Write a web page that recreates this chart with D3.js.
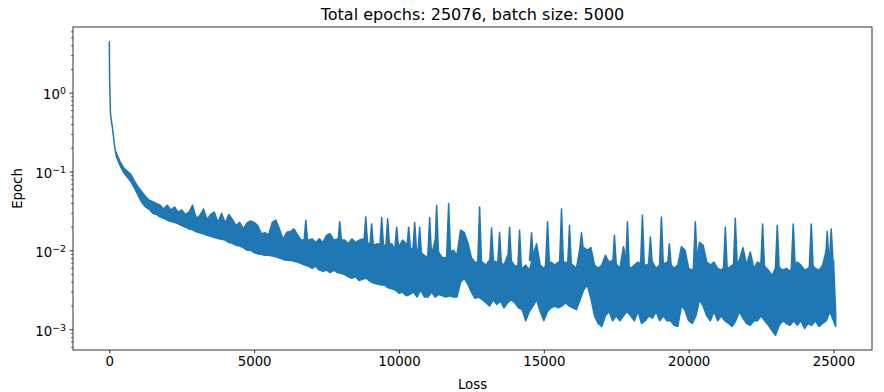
<!DOCTYPE html>
<html>
<head>
<meta charset="utf-8">
<script src="https://cdn.jsdelivr.net/npm/d3@7"></script>
<style>
  body { margin: 0; background: #fff; }
  svg { display: block; font-family: "DejaVu Sans", sans-serif; }
</style>
</head>
<body>
<script>
// first few hundred epochs: a single steep line
const headEpochs = [0, 5, 10, 20, 30, 40, 60, 100, 140, 200];
const headLoss = [4.5, 2.4, 1.5, 1.05, 0.72, 0.56, 0.48, 0.38, 0.29, 0.19];

// after that the curve is a dense band, read every 125 epochs (low / high edge)
const bandStart = 250, bandStep = 125, lastEpoch = 25075;
const bandHigh = [
  0.17, 0.135, 0.112, 0.102, 0.092, 0.076, 0.064,
  0.056, 0.049, 0.044, 0.042, 0.040, 0.038, 0.034, 0.038, 0.033, 0.036,
  0.031, 0.033, 0.029, 0.031, 0.038, 0.026, 0.028, 0.034, 0.025, 0.029,
  0.031, 0.023, 0.030, 0.0225, 0.029, 0.025, 0.021, 0.023, 0.019, 0.0225,
  0.024, 0.023, 0.021, 0.0165, 0.017, 0.016, 0.023, 0.0245, 0.019, 0.014,
  0.0172, 0.0176, 0.019, 0.0158, 0.0137, 0.0137, 0.0137, 0.0142, 0.0128, 0.0142,
  0.0128, 0.0158, 0.0165, 0.0137, 0.0142, 0.0137, 0.0137, 0.0123, 0.0142, 0.0128,
  0.0137, 0.0142, 0.013, 0.012, 0.0118, 0.0123, 0.012, 0.0118, 0.012, 0.0123,
  0.0104, 0.0115, 0.0137, 0.0123, 0.011, 0.0102, 0.0105, 0.0095, 0.0088, 0.0082,
  0.009, 0.0137, 0.0095, 0.0082, 0.0082, 0.0095, 0.0102, 0.0088, 0.0183, 0.0172,
  0.0128, 0.0082, 0.0072, 0.0072, 0.0072, 0.0066, 0.0076, 0.0075, 0.0072, 0.0072,
  0.0066, 0.0088, 0.0075, 0.0064, 0.0066, 0.006, 0.0066, 0.0057, 0.0085, 0.0123,
  0.0066, 0.006, 0.007, 0.0072, 0.0066, 0.0072, 0.0072, 0.0072, 0.007, 0.0066,
  0.006, 0.011, 0.011, 0.0102, 0.011, 0.0066, 0.006, 0.0066, 0.0088, 0.0072,
  0.0076, 0.0068, 0.006, 0.0113, 0.0066, 0.006, 0.0066, 0.0072, 0.0068, 0.0066,
  0.0068, 0.0072, 0.006, 0.0066, 0.0068, 0.0072, 0.0068, 0.006, 0.0066, 0.0113,
  0.0102, 0.006, 0.0057, 0.0068, 0.0128, 0.0118, 0.0072, 0.0066, 0.0072, 0.006,
  0.0057, 0.0064, 0.006, 0.0066, 0.0068, 0.0076, 0.011, 0.0066, 0.0097, 0.006,
  0.0072, 0.0068, 0.0064, 0.0057, 0.0049, 0.006, 0.0062, 0.0057, 0.006, 0.0055,
  0.0066, 0.0072, 0.0066, 0.0057, 0.006, 0.0066, 0.006, 0.0057, 0.0066, 0.0102,
  0.0075, 0.0075,
  0.0016
];
const bandLow = [
  0.155, 0.12, 0.098, 0.086, 0.075, 0.062, 0.05,
  0.041, 0.036, 0.034, 0.030, 0.029, 0.027, 0.026, 0.0245, 0.0235, 0.023,
  0.022, 0.021, 0.020, 0.019, 0.0185, 0.0175, 0.017, 0.0165, 0.0158, 0.0153,
  0.0148, 0.0144, 0.014, 0.0137, 0.0128, 0.0125, 0.0118, 0.0115, 0.011, 0.0102,
  0.0102, 0.0095, 0.0092, 0.009, 0.0088, 0.0088, 0.0086, 0.0084, 0.0081, 0.0078,
  0.0076, 0.0076, 0.0074, 0.0072, 0.0069, 0.0066, 0.0064, 0.006, 0.0064, 0.0057,
  0.0055, 0.0057, 0.0053, 0.0057, 0.0053, 0.0052, 0.005, 0.0047, 0.0045, 0.0047,
  0.0042, 0.0044, 0.0045, 0.0041, 0.0039, 0.0038, 0.0037, 0.0037, 0.0034, 0.0033,
  0.0032, 0.0029, 0.003, 0.0027, 0.0028, 0.003, 0.0026, 0.0032, 0.0026, 0.0026,
  0.003, 0.0026, 0.0028, 0.0027, 0.0026, 0.0027, 0.0026, 0.0026, 0.004, 0.0045,
  0.0038, 0.003, 0.0025, 0.0026, 0.0024, 0.0022, 0.002, 0.0024, 0.0021, 0.0023,
  0.0019, 0.0022, 0.0024, 0.0022, 0.0019, 0.0018, 0.0013, 0.0017, 0.002, 0.0024,
  0.0017, 0.0013, 0.0017, 0.0019, 0.002, 0.0019, 0.002, 0.0022, 0.002, 0.0019,
  0.0018, 0.0024, 0.0032, 0.0037, 0.0025, 0.0015, 0.0012, 0.0011, 0.0015, 0.0017,
  0.0013, 0.0015, 0.0013, 0.0015, 0.0017, 0.0015, 0.0013, 0.0017, 0.0012, 0.0013,
  0.0015, 0.0014, 0.0017, 0.0013, 0.0015, 0.0013, 0.0013, 0.00114, 0.0011, 0.002,
  0.00176, 0.0013, 0.0012, 0.0015, 0.0024, 0.002, 0.0015, 0.0013, 0.0017, 0.0013,
  0.0015, 0.0013, 0.0012, 0.0011, 0.0013, 0.0017, 0.0014, 0.0012, 0.00114, 0.0013,
  0.0013, 0.0015, 0.0013, 0.00114, 0.00098, 0.00085, 0.00114, 0.0013, 0.0012, 0.00114,
  0.0013, 0.00114, 0.0013, 0.00104, 0.0012, 0.00114, 0.0013, 0.0011, 0.0012, 0.0013,
  0.0017, 0.0013,
  0.0011
];

// short sharp spikes above the band: epoch and peak loss
const spikeEpochs = [6783, 7955, 8852, 9055, 9403, 9610, 9921, 10334, 10541, 10714,
  11059, 11300, 11714, 12783, 13197, 13472, 13817, 14162, 14576, 15128,
  15610, 15886, 16300, 17438, 17886, 18403, 18679, 19059, 19334, 20231,
  21266, 21610, 22552, 23059, 23610, 24231, 24783, 24921];
const spikePeaks = [0.0245, 0.0235, 0.027, 0.022, 0.0265, 0.0255, 0.020, 0.020, 0.023, 0.020,
  0.0265, 0.038, 0.040, 0.036, 0.0195, 0.0172, 0.020, 0.0183, 0.017, 0.0235,
  0.034, 0.0212, 0.017, 0.0158, 0.0235, 0.0284, 0.015, 0.027, 0.0123, 0.0235,
  0.020, 0.026, 0.022, 0.0212, 0.022, 0.022, 0.0176, 0.019];

const xTicks = [0, 5000, 10000, 15000, 20000, 25000];
const yTickExps = [0, -1, -2, -3];

const titleText = "Total epochs: 25076, batch size: 5000";
const xLabel = "Loss";
const yLabel = "Epoch";

// ---- build the series ----
const bandEpochs = d3.range(bandStart, lastEpoch, bandStep).concat([lastEpoch]);
const series = headEpochs.map((e, i) => ({ epoch: e, lo: headLoss[i], hi: headLoss[i] }))
  .concat(bandEpochs.map((e, i) => ({ epoch: e, lo: bandLow[i], hi: bandHigh[i] })));
const bisect = d3.bisector(d => d.epoch).left;
const spikes = spikeEpochs.map((e, i) => {
  const j = Math.min(series.length - 1, bisect(series, e));
  return { epoch: e, peak: spikePeaks[i], base: series[j].hi };
});

const width = 884, height = 392;
const margin = { top: 27, right: 12, bottom: 42, left: 73 };
const innerW = width - margin.left - margin.right,
      innerH = height - margin.top - margin.bottom;
const color = "#1f77b4";

// matplotlib style 5% padding
const xPad = 0.05 * lastEpoch;
const x = d3.scaleLinear()
  .domain([-xPad, lastEpoch + xPad])
  .range([0, innerW]);

const lmin = Math.log10(d3.min(series, d => d.lo)),
      lmax = Math.log10(d3.max(series, d => d.hi)),
      lpad = 0.05 * (lmax - lmin);
const y = d3.scaleLog()
  .domain([Math.pow(10, lmin - lpad), Math.pow(10, lmax + lpad)])
  .range([innerH, 0]);

const svg = d3.select("body").append("svg")
  .attr("width", width)
  .attr("height", height);

const g = svg.append("g")
  .attr("transform", "translate(" + margin.left + "," + margin.top + ")");

g.append("clipPath").attr("id", "clip")
  .append("rect").attr("width", innerW).attr("height", innerH);

const plot = g.append("g").attr("clip-path", "url(#clip)");

const area = d3.area()
  .x(d => x(d.epoch))
  .y0(d => y(d.lo))
  .y1(d => y(d.hi));

plot.append("path")
  .datum(series)
  .attr("d", area)
  .style("fill", color)
  .style("stroke", color)
  .style("stroke-width", 1.5)
  .style("stroke-linejoin", "round");

// spikes: narrow peaks rising from the top of the band
plot.append("g").selectAll("path")
  .data(spikes)
  .enter().append("path")
  .attr("d", d => {
    const cx = x(d.epoch), yb = y(d.base) + 4, yp = y(d.peak);
    return "M" + (cx - 2) + "," + yb + "L" + cx + "," + yp + "L" + (cx + 2) + "," + yb + "Z";
  })
  .style("fill", color)
  .style("stroke", color)
  .style("stroke-width", 1.5)
  .style("stroke-linejoin", "round");

// x axis
const xAxis = g.append("g")
  .attr("transform", "translate(0," + innerH + ")")
  .call(d3.axisBottom(x).tickValues(xTicks).tickFormat(d3.format("d"))
    .tickSizeOuter(0).tickSize(3.5).tickPadding(3.5));
xAxis.select(".domain").remove();
xAxis.selectAll("line").style("stroke", "#000").style("stroke-width", 0.8);
xAxis.selectAll("text")
  .style("font-size", "13.3px")
  .style("font-family", "DejaVu Sans")
  .style("fill", "#000");

// y axis: minor ticks
const [d0, d1] = y.domain();
const minorTicks = [];
for (let e = Math.floor(Math.log10(d0)); e <= Math.ceil(Math.log10(d1)); e++) {
  for (let m = 2; m <= 9; m++) {
    const v = m * Math.pow(10, e);
    if (v >= d0 && v <= d1) minorTicks.push(v);
  }
}
g.append("g").selectAll("line")
  .data(minorTicks)
  .enter().append("line")
  .attr("x1", -2).attr("x2", 0)
  .attr("y1", d => y(d)).attr("y2", d => y(d))
  .style("stroke", "#000").style("stroke-width", 0.6);

// y axis: major ticks with 10^n labels
const yMajor = g.append("g").selectAll("g")
  .data(yTickExps)
  .enter().append("g")
  .attr("transform", d => "translate(0," + y(Math.pow(10, d)) + ")");
yMajor.append("line")
  .attr("x1", -3.5).attr("x2", 0)
  .style("stroke", "#000").style("stroke-width", 0.8);
const yLab = yMajor.append("text")
  .attr("x", -7)
  .attr("y", 0)
  .attr("dy", "0.45em")
  .attr("text-anchor", "end")
  .style("font-size", "13.3px")
  .style("fill", "#000");
yLab.append("tspan").text("10");
yLab.append("tspan")
  .attr("dy", "-0.5em")
  .style("font-size", "9.4px")
  .text(d => d < 0 ? "\u2212" + (-d) : String(d));

// frame
g.append("rect")
  .attr("width", innerW).attr("height", innerH)
  .style("fill", "none")
  .style("stroke", "#000")
  .style("stroke-width", 0.8);

// title and labels
svg.append("text")
  .attr("x", margin.left + innerW / 2)
  .attr("y", 20)
  .attr("text-anchor", "middle")
  .style("font-size", "16px")
  .text(titleText);

svg.append("text")
  .attr("x", margin.left + innerW / 2)
  .attr("y", 389)
  .attr("text-anchor", "middle")
  .style("font-size", "13.3px")
  .text(xLabel);

svg.append("text")
  .attr("transform", "translate(21.5," + (margin.top + innerH / 2) + ") rotate(-90)")
  .attr("text-anchor", "middle")
  .style("font-size", "13.3px")
  .text(yLabel);
</script>
</body>
</html>
